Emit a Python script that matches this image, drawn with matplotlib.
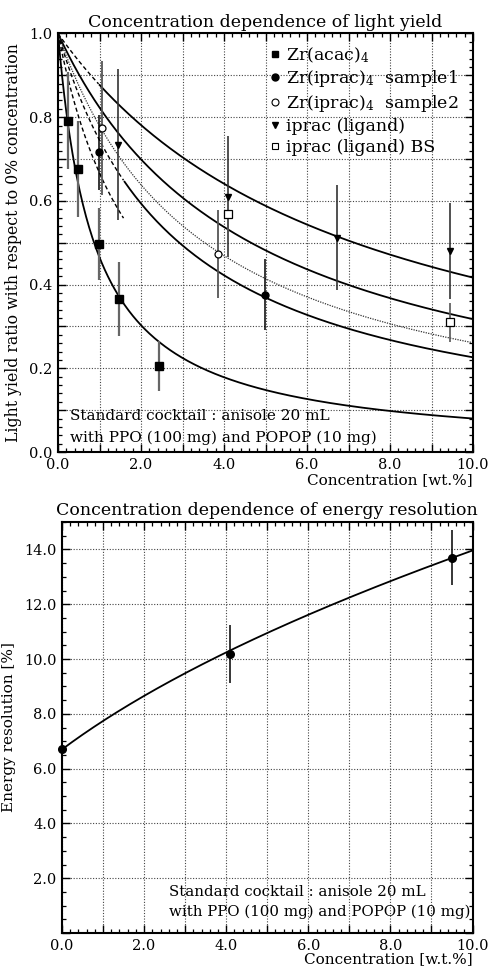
import numpy as np
import matplotlib
matplotlib.use("Agg")
import matplotlib.pyplot as plt
from matplotlib.ticker import MultipleLocator, FuncFormatter

plt.rcParams['font.family'] = ['DejaVu Serif']
plt.rcParams['mathtext.fontset'] = 'dejavuserif'

# ---------------- data: light yield ----------------
acac_x = [0.24, 0.48, 0.98, 1.48, 2.44]
acac_y = [0.792, 0.676, 0.497, 0.365, 0.206]
acac_e = [0.115, 0.115, 0.085, 0.088, 0.060]

s1_x = [0.98, 4.99]
s1_y = [0.716, 0.376]
s1_e = [0.09, 0.085]

s2_x = [1.07, 3.85]
s2_y = [0.774, 0.474]
s2_e = [0.16, 0.105]

lig_x = [1.44, 4.10, 6.72, 9.45]
lig_y = [0.734, 0.610, 0.512, 0.480]
lig_e = [0.18, 0.145, 0.125, 0.115]

bs_x = [4.10, 9.45]
bs_y = [0.568, 0.310]
bs_e = [0.04, 0.046]

# fitted quenching constants k in 1/(1+k*c)
k_acac = 1.15
k_s1 = 0.342
k_s2 = 0.283
k_lig = 0.140
k_bs = 0.215
k_extra = 0.50

# ---------------- data: energy resolution ----------------
er_x = [0.0, 4.10, 9.50]
er_y = [6.70, 10.18, 13.70]
er_e = [1.0, 1.05, 1.0]
er_a = 6.7      # resolution at 0 %
er_b = 15.0     # quadrature slope

W, H = 488, 972
fig = plt.figure(figsize=(W / 100, H / 100), dpi=100)

def frac(l, t, r, b):
    return [l / W, 1 - b / H, (r - l) / W, (b - t) / H]

ax1 = fig.add_axes(frac(58, 33.5, 473, 452))
ax2 = fig.add_axes(frac(62, 522, 472.5, 933))

def quench(k, c):
    return 1.0 / (1.0 + k * c)

c = np.linspace(0, 10, 400)
lw = 1.3
# curves
ax1.plot(c, quench(k_acac, c), color='black', lw=lw, zorder=2)
cd = c[c <= 1.0]; cs = c[c >= 1.0]
ax1.plot(cd, quench(k_lig, cd), color='black', lw=1.0, ls=(0, (3, 2)), zorder=2)
ax1.plot(cs, quench(k_lig, cs), color='black', lw=lw, zorder=2)
ax1.plot(c, quench(k_bs, c), color='black', lw=lw, zorder=2)
ax1.plot(c, quench(k_s2, c), color='#333333', lw=0.9, ls=(0, (1, 1)), zorder=2)
cd = c[c <= 1.6]; cs = c[c >= 1.6]
ax1.plot(cd, quench(k_s1, cd), color='black', lw=1.0, ls=(0, (3, 2)), zorder=2)
ax1.plot(cs, quench(k_s1, cs), color='black', lw=lw, zorder=2)
ce = c[c <= 1.6]
ax1.plot(ce, quench(k_extra, ce), color='black', lw=1.0, ls=(0, (3, 2)), zorder=2)

# points
ax1.errorbar(acac_x, acac_y, yerr=acac_e, fmt='s', color='black', ms=5.5,
             ecolor='#666666', elinewidth=1.6, capsize=0, zorder=4)
ax1.errorbar(s1_x, s1_y, yerr=s1_e, fmt='o', color='black', ms=5,
             ecolor='black', elinewidth=1.1, capsize=0, zorder=4)
ax1.errorbar(s2_x, s2_y, yerr=s2_e, fmt='o', mfc='white', mec='black', ms=5,
             mew=0.9, ecolor='#555555', elinewidth=1.3, capsize=0, zorder=4)
ax1.errorbar(lig_x, lig_y, yerr=lig_e, fmt='v', color='black', ms=5,
             ecolor='#333333', elinewidth=1.2, capsize=0, zorder=4)
ax1.errorbar(bs_x, bs_y, yerr=bs_e, fmt='s', mfc='white', mec='black', ms=6,
             mew=0.9, ecolor='#555555', elinewidth=1.2, capsize=0, zorder=4)

# legend
h = [
    ax1.plot([], [], 's', color='black', ms=4.5)[0],
    ax1.plot([], [], 'o', color='black', ms=5)[0],
    ax1.plot([], [], 'o', mfc='white', mec='black', ms=5, mew=0.8)[0],
    ax1.plot([], [], 'v', color='black', ms=5)[0],
    ax1.plot([], [], 's', mfc='white', mec='black', ms=5, mew=0.8)[0],
]
labels = ['Zr(acac)$_4$', 'Zr(iprac)$_4$  sample1', 'Zr(iprac)$_4$  sample2',
          'iprac (ligand)', 'iprac (ligand) BS']
ax1.legend(h, labels, loc='upper left', bbox_to_anchor=(0.51, 0.972),
           frameon=False, fontsize=12.5, handlelength=0.6, handletextpad=0.35,
           labelspacing=0.22, borderpad=0, borderaxespad=0)

ax1.text(0.28, 0.085, 'Standard cocktail : anisole 20 mL', fontsize=11, va='center')
ax1.text(0.28, 0.034, 'with PPO (100 mg) and POPOP (10 mg)', fontsize=11, va='center')

ax1.set_xlim(0, 10)
ax1.set_ylim(0, 1.0)
ax1.xaxis.set_major_locator(MultipleLocator(1.0))
ax1.xaxis.set_minor_locator(MultipleLocator(0.2))
ax1.xaxis.set_major_formatter(FuncFormatter(
    lambda v, p: ('%.1f' % v) if abs(round(v) % 2) < 1e-9 else ''))
ax1.yaxis.set_major_locator(MultipleLocator(0.1))
ax1.yaxis.set_minor_locator(MultipleLocator(0.02))
ax1.yaxis.set_major_formatter(FuncFormatter(
    lambda v, p: ('%.1f' % v) if abs(round(v * 10) % 2) < 1e-9 else ''))
ax1.set_title('Concentration dependence of light yield', fontsize=12.5, pad=5)
ax1.set_ylabel('Light yield ratio with respect to 0% concentration', fontsize=11.3, labelpad=5)
ax1.set_xlabel('Concentration [wt.%]', fontsize=11, loc='right', labelpad=1)

# ---------------- energy resolution ----------------
ax2.plot(c, np.sqrt(er_a ** 2 + er_b * c), color='black', lw=lw, zorder=2)
ax2.errorbar(er_x, er_y, yerr=er_e, fmt='o', color='black', ms=5.5,
             ecolor='black', elinewidth=1.1, capsize=0, zorder=4, clip_on=False)
ax2.text(2.6, 1.5, 'Standard cocktail : anisole 20 mL', fontsize=10.8, va='center')
ax2.text(2.6, 0.78, 'with PPO (100 mg) and POPOP (10 mg)', fontsize=10.8, va='center')
ax2.set_xlim(0, 10)
ax2.set_ylim(0, 15)
ax2.xaxis.set_major_locator(MultipleLocator(1.0))
ax2.xaxis.set_minor_locator(MultipleLocator(0.2))
ax2.xaxis.set_major_formatter(FuncFormatter(
    lambda v, p: ('%.1f' % v) if abs(round(v) % 2) < 1e-9 else ''))
ax2.yaxis.set_major_locator(MultipleLocator(2.0))
ax2.yaxis.set_minor_locator(MultipleLocator(0.5))
ax2.yaxis.set_major_formatter(FuncFormatter(
    lambda v, p: ('%.1f' % v) if v > 0.5 else ''))
ax2.set_title('Concentration dependence of energy resolution', fontsize=12.5, pad=5)
ax2.set_ylabel('Energy resolution [%]', fontsize=11, labelpad=6)
ax2.set_xlabel('Concentration [w.t.%]', fontsize=11, loc='right', labelpad=0)

for ax in (ax1, ax2):
    ax.grid(True, which='major', ls=(0, (1, 1.5)), color='#444444', lw=0.8)
    ax.tick_params(which='both', direction='in', top=True, right=True,
                   labelsize=10.5, pad=4)
    ax.tick_params(which='major', length=6, width=1.0)
    ax.tick_params(which='minor', length=3, width=0.9)
    for s in ax.spines.values():
        s.set_linewidth(1.5)
    ax.set_axisbelow(True)

fig.savefig('out.png', dpi=100)
